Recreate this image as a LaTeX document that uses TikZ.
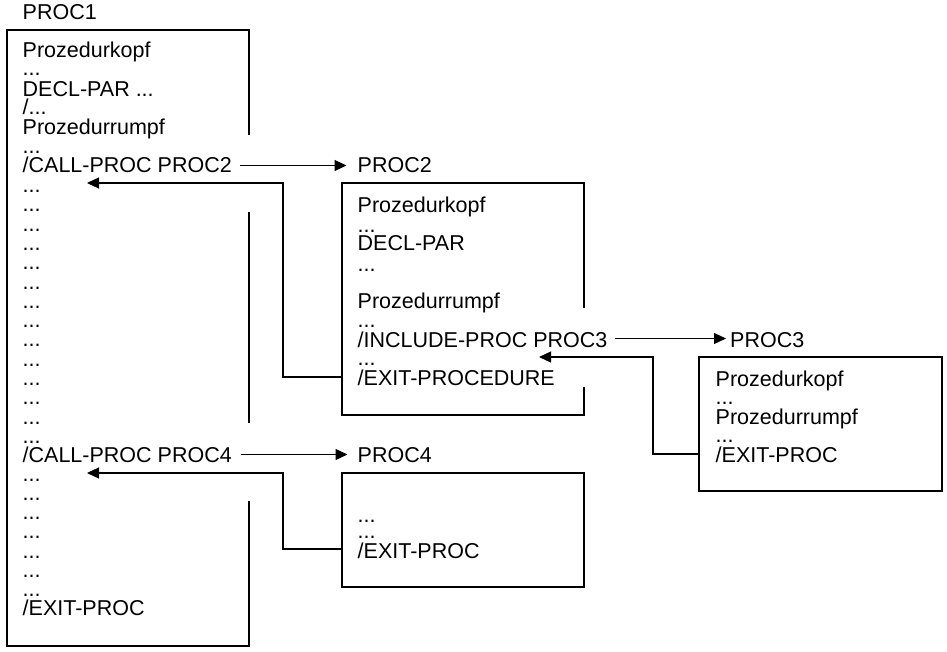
\documentclass[tikz,border=0pt]{standalone}
\usepackage{fontspec}
\setmainfont{Liberation Sans}
\usetikzlibrary{arrows.meta,calc}
\begin{document}
\begin{tikzpicture}[x=1pt,y=1pt,
  txt/.style={anchor=base west, inner sep=0pt, font=\fontsize{21.5}{24}\selectfont},
  frame/.style={line width=1.1pt, line join=miter},
  link/.style={line width=1.1pt},
  arr/.style={link, -{Triangle[length=12pt,width=11pt]}}
]
\useasboundingbox (0,0) rectangle (947,-652);

% ---------- PROC1 ----------
\node[txt] (p1lbl) at (22.5,-20) {PROC1};
\node[txt] (p1kopf) at (22.5,-58) {Prozedurkopf};
\node[txt] (p1da) at (22.5,-76) {...};
\node[txt] (p1decl) at (22.5,-97) {DECL-PAR ...};
\node[txt] (p1sl) at (22.5,-115) {/...};
\node[txt] (p1rumpf) at (22.5,-135) {Prozedurrumpf};
\node[txt] (p1db) at (22.5,-154) {...};
\node[txt] (c2) at (22.5,-173) {/CALL-PROC PROC2};
\foreach \yy [count=\k] in {192.5,211.8,231.1,250.4,269.7,289.0,308.3,327.6,346.9,366.2,385.5,404.8,424.1,443}
  \node[txt] (p1dots\k) at (22.5,-\yy) {...};
\node[txt] (c4) at (22.5,-462.5) {/CALL-PROC PROC4};
\foreach \yy [count=\k] in {481,500,519,538.5,558,577,596.5}
  \node[txt] (p1dotsb\k) at (22.5,-\yy) {...};
\node[txt] (p1exit) at (22.5,-615) {/EXIT-PROC};

\coordinate (p1tl) at (7,-30);
\coordinate (p1br) at (249,-646);
\draw[frame] (249,-135) -- (249,-30) -- (p1tl) -- (7,-646) -- (p1br) -- (249,-501);
\draw[frame] (249,-212) -- (249,-423);

% ---------- PROC2 ----------
\node[txt] (p2lbl) at (357.5,-173) {PROC2};
\node[txt] (p2kopf) at (357.5,-213) {Prozedurkopf};
\node[txt] (p2da) at (357.5,-232.5) {...};
\node[txt] (p2decl) at (357.5,-251) {DECL-PAR};
\node[txt] (p2db) at (357.5,-272) {...};
\node[txt] (p2rumpf) at (357.5,-308) {Prozedurrumpf};
\node[txt] (p2dc) at (357.5,-327.5) {...};
\node[txt] (inc3) at (357.5,-347) {/INCLUDE-PROC PROC3};
\node[txt] (p2dd) at (357.5,-365.5) {...};
\node[txt] (p2exit) at (357.5,-385) {/EXIT-PROCEDURE};

\coordinate (p2tl) at (342,-183);
\coordinate (p2br) at (584,-415);
\draw[frame] (584,-308) -- (584,-183) -- (p2tl) -- (342,-415) -- (p2br) -- (584,-387);

% ---------- PROC3 ----------
\node[txt] (p3lbl) at (730,-347) {PROC3};
\node[txt] (p3kopf) at (715.5,-386) {Prozedurkopf};
\node[txt] (p3da) at (715.5,-404.5) {...};
\node[txt] (p3rumpf) at (715.5,-424) {Prozedurrumpf};
\node[txt] (p3db) at (715.5,-442.5) {...};
\node[txt] (p3exit) at (715.5,-462) {/EXIT-PROC};
\coordinate (p3tl) at (699,-357);
\coordinate (p3br) at (942,-491);
\draw[frame] (p3tl) rectangle (p3br);

% ---------- PROC4 ----------
\node[txt] (p4lbl) at (357.5,-462.5) {PROC4};
\node[txt] (p4da) at (357.5,-522) {...};
\node[txt] (p4db) at (357.5,-538) {...};
\node[txt] (p4exit) at (357.5,-558) {/EXIT-PROC};
\coordinate (p4tl) at (342,-473);
\coordinate (p4br) at (584,-587);
\draw[frame] (p4tl) rectangle (p4br);

% ---------- connectors ----------
\draw[arr] ($(c2.base east)+(8,7.5)$) -- ($(p2lbl.base west)+(-11,7.5)$);
\coordinate (r2tip) at (87,-183);
\draw[arr] (342,-377) -- (283,-377) -- (283,-183) -- (r2tip);

\draw[arr] ($(inc3.base east)+(7,8.5)$) -- ($(p3lbl.base west)+(-4,8.5)$);
\coordinate (r3tip) at (539,-357);
\draw[arr] (699,-454) -- (653,-454) -- (653,-357) -- (r3tip);

\draw[arr] ($(c4.base east)+(9,8)$) -- ($(p4lbl.base west)+(-10,8)$);
\coordinate (r4tip) at (87,-473);
\draw[arr] (342,-549) -- (283,-549) -- (283,-473) -- (r4tip);
\end{tikzpicture}
\end{document}
